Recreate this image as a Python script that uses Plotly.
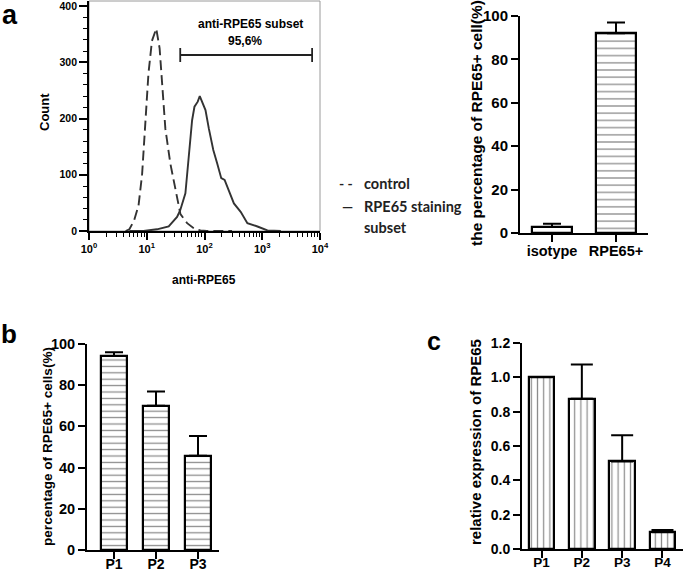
import plotly.graph_objects as go

# ---------------- data ----------------
# Panel a: flow-cytometry histogram (anti-RPE65 fluorescence vs count)
control_x = [4.3, 5.0, 6.0, 7.2, 8.3, 9.4, 10.7, 12.3, 14.6, 16.7, 18.4, 21, 25.6, 31.3, 38.3, 50, 65, 85, 110, 300]
control_y = [0, 3, 18, 45, 100, 190, 280, 338, 360, 325, 258, 182, 120, 72, 30, 14, 5, 1, 0, 0]
stain_x = [5, 8.8, 15, 24, 33.5, 38, 46.7, 53, 61, 67, 72, 76.4, 82.8, 91, 104, 119, 142, 166, 195, 223,
           265, 323, 423, 553, 826, 1231, 2100]
stain_y = [0, 0, 3, 8, 25, 37, 67, 126, 197, 221, 225, 230, 240, 230, 215, 182, 144, 120, 94, 91,
           70, 49, 34, 14, 8, 1, 0]
gate_x = [38, 7300]
gate_y = [313, 313]
gate_label = "anti-RPE65 subset"
gate_pct = "95,6%"
hist_tickvals = [1, 10, 100, 1000, 10000]
hist_ticktext = ["10<sup>0</sup>", "10<sup>1</sup>", "10<sup>2</sup>", "10<sup>3</sup>", "10<sup>4</sup>"]
legend_labels = ["control", "RPE65 staining", "subset"]

# Panel a (right): percentage of RPE65+ cells
a_cats = ["isotype", "RPE65+"]
a_vals = [2.8, 92]
a_err = [1.5, 5]

# Panel b
b_cats = ["P1", "P2", "P3"]
b_vals = [94.2, 70, 45.8]
b_err = [1.8, 7, 9.6]

# Panel c
c_cats = ["P1", "P2", "P3", "P4"]
c_vals = [1.0, 0.875, 0.51, 0.098]
c_err = [0, 0.2, 0.152, 0.013]

# ---------------- layout helpers ----------------
W, H = 685, 573
FONT = "Liberation Sans, Arial, sans-serif"


def px(x):
    return x / W


def py(y):
    return 1 - y / H


fig = go.Figure()

line_col = "#333333"
fig.add_trace(go.Scatter(x=control_x, y=control_y, mode="lines", name="control",
                         line=dict(color=line_col, width=1.9, dash="10px,5px"),
                         xaxis="x", yaxis="y", showlegend=False))
fig.add_trace(go.Scatter(x=stain_x, y=stain_y, mode="lines", name="RPE65 staining subset",
                         line=dict(color=line_col, width=1.9),
                         xaxis="x", yaxis="y", showlegend=False))
fig.add_trace(go.Scatter(x=gate_x, y=gate_y, mode="lines+markers", name="gate",
                         line=dict(color="#222", width=1.8),
                         marker=dict(symbol="line-ns-open", size=10, line=dict(color="#222", width=1.8)),
                         xaxis="x", yaxis="y", showlegend=False))

bar_line = dict(color="black", width=2.2)

fig.add_trace(go.Bar(x=a_cats, y=a_vals, width=0.64, xaxis="x2", yaxis="y2", showlegend=False,
                     marker=dict(color="white", line=bar_line,
                                 pattern=dict(shape=["", "-"], fgcolor="#1a1a1a", bgcolor="white",
                                              size=7.2, solidity=0.18)),
                     error_y=dict(type="data", array=a_err, arrayminus=[0] * len(a_err), symmetric=False,
                                  color="black", thickness=2, width=9)))

fig.add_trace(go.Bar(x=b_cats, y=b_vals, width=0.64, xaxis="x3", yaxis="y3", showlegend=False,
                     marker=dict(color="white", line=bar_line,
                                 pattern=dict(shape="-", fgcolor="#1a1a1a", bgcolor="white",
                                              size=6.4, solidity=0.2)),
                     error_y=dict(type="data", array=b_err, arrayminus=[0] * len(b_err), symmetric=False,
                                  color="black", thickness=2, width=9)))

fig.add_trace(go.Bar(x=c_cats, y=c_vals, width=0.63, xaxis="x4", yaxis="y4", showlegend=False,
                     marker=dict(color="white", line=bar_line,
                                 pattern=dict(shape="|", fgcolor="#1a1a1a", bgcolor="white",
                                              size=6.2, solidity=0.2)),
                     error_y=dict(type="data", array=c_err, arrayminus=[0] * len(c_err), symmetric=False,
                                  color="black", thickness=2, width=11)))


def tfont(size):
    return dict(family=FONT, size=size, color="black", weight="bold")


minor_log = [m * d for d in (1, 10, 100, 1000) for m in range(2, 10)]

common_ax = dict(showgrid=False, zeroline=False, showline=True, linecolor="black", linewidth=2,
                 ticks="outside", tickcolor="black", tickwidth=2, ticklen=7, automargin=False,
                 ticklabeloverflow="allow")

fig.update_layout(
    width=W, height=H, margin=dict(l=0, r=0, t=0, b=0, pad=0, autoexpand=False),
    paper_bgcolor="white", plot_bgcolor="white",
    font=dict(family=FONT, color="black"),
    showlegend=False,
    bargap=0,
    xaxis=dict(domain=[px(89), px(320)], anchor="y", type="log", range=[0, 4],
               tickvals=hist_tickvals, ticktext=hist_ticktext, tickfont=tfont(11),
               showgrid=False, zeroline=False, showline=True, linecolor="black", linewidth=1.8,
               ticks="outside", tickcolor="black", tickwidth=1.5, ticklen=7, automargin=False,
               ticklabeloverflow="allow",
               minor=dict(tickvals=minor_log, ticks="outside", ticklen=4, tickwidth=1, tickcolor="black")),
    yaxis=dict(domain=[py(231), py(1)], anchor="x", range=[0, 409],
               tickvals=[0, 100, 200, 300, 400], tickfont=tfont(10.5),
               showgrid=False, zeroline=False, showline=True, linecolor="black", linewidth=1.8,
               ticks="outside", tickcolor="black", tickwidth=1.5, ticklen=8, automargin=False,
               ticklabeloverflow="allow",
               minor=dict(dtick=20, ticks="outside", ticklen=4, tickwidth=1, tickcolor="black")),
    xaxis2=dict(domain=[px(520), px(648)], anchor="y2", type="category", range=[-0.5, 1.5],
                tickfont=tfont(14.5), ticklabelstandoff=-3, **common_ax),
    yaxis2=dict(domain=[py(233), py(16)], anchor="x2", range=[0, 100], dtick=20,
                tickfont=tfont(15), **common_ax),
    xaxis3=dict(domain=[px(87), px(219)], anchor="y3", type="category", range=[-0.643, 2.5],
                tickfont=tfont(14), ticklabelstandoff=-7, **common_ax),
    yaxis3=dict(domain=[py(550), py(344)], anchor="x3", range=[0, 100], dtick=20,
                tickfont=tfont(14.5), **common_ax),
    xaxis4=dict(domain=[px(522), px(683)], anchor="y4", type="category", range=[-0.484, 3.509],
                tickfont=tfont(13.5), ticklabelstandoff=-7, **common_ax),
    yaxis4=dict(domain=[py(549), py(343)], anchor="x4", range=[0, 1.2], dtick=0.2, tickformat=".1f",
                tickfont=tfont(14), **common_ax),
)

# thin grey frame around histogram
fig.add_shape(type="rect", xref="x domain", yref="y domain", x0=0, x1=1, y0=0, y1=1,
              line=dict(color="#9a9a9a", width=1), layer="below")


def ann(text, x, y, size, angle=0, xanchor="center", family=FONT, weight="bold", color="black"):
    fig.add_annotation(text=text, x=px(x), y=py(y), xref="paper", yref="paper", showarrow=False,
                       textangle=angle, xanchor=xanchor, yanchor="middle",
                       font=dict(family=family, size=size, color=color, weight=weight))


# panel labels
ann("a", 10, 15, 27)
ann("b", 9, 334, 26)
ann("c", 434, 341, 25)

# histogram texts
ann(gate_label, 250, 24, 12)
ann(gate_pct, 245, 41, 12)
ann("Count", 44, 112, 13, angle=-90)
ann("anti-RPE65", 204, 280, 12)

# legend for histogram
LEG = "Lato, Carlito, sans-serif"
ann("- -", 337, 183, 14, xanchor="left", family=LEG, weight="bold", color="#222")
ann(legend_labels[0], 362, 183, 14.5, xanchor="left", family=LEG, weight="bold", color="#222")
ann("—", 340, 206, 14, xanchor="left", family=LEG, weight="bold", color="#222")
ann(legend_labels[1], 362, 206, 14.5, xanchor="left", family=LEG, weight="bold", color="#222")
ann(legend_labels[2], 362, 227, 14.5, xanchor="left", family=LEG, weight="bold", color="#222")

# bar chart axis titles
ann("the percentage of RPE65+ cell(%)", 477, 123, 15.5, angle=-90)
ann("percentage of RPE65+ cells(%)", 47, 447, 13.6, angle=-90)
ann("relative expression of RPE65", 475, 442, 15, angle=-90)

fig.write_html("out.html", config={"displayModeBar": False},
               post_script="document.body.style.margin='0';document.body.style.overflow='hidden';")
